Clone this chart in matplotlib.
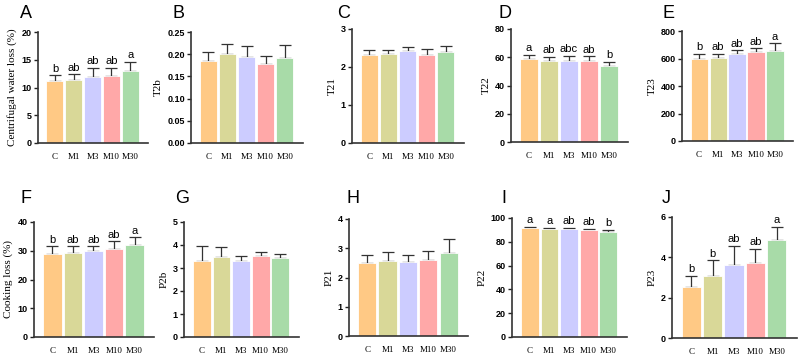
import matplotlib.pyplot as plt
import numpy as np

# --- dados ---
groups = ['C', 'M1', 'M3', 'M10', 'M30']
colors = ['#FFC985', '#D9D898', '#CCCCFF', '#FFA8A8', '#A8DBA8']

panel_letters = ['A', 'B', 'C', 'D', 'E', 'F', 'G', 'H', 'I', 'J']
ylabels = ['Centrifugal water loss (%)', 'T2b', 'T21', 'T22', 'T23',
           'Cooking loss (%)', 'P2b', 'P21', 'P22', 'P23']

cwl_mean = [11.1, 11.4, 11.9, 12.0, 13.0]
cwl_sd = [1.1, 1.0, 1.6, 1.6, 1.6]
t2b_mean = [0.184, 0.201, 0.193, 0.179, 0.191]
t2b_sd = [0.020, 0.023, 0.025, 0.017, 0.029]
t21_mean = [2.32, 2.35, 2.41, 2.31, 2.40]
t21_sd = [0.13, 0.10, 0.11, 0.16, 0.14]
t22_mean = [58.9, 57.5, 57.5, 57.5, 53.9]
t22_sd = [2.6, 2.6, 3.5, 3.1, 2.9]
t23_mean = [594, 606, 633, 647, 657]
t23_sd = [39, 27, 27, 27, 53]
ckl_mean = [28.7, 29.3, 30.0, 30.6, 32.1]
ckl_sd = [2.8, 2.2, 1.5, 2.7, 2.6]
p2b_mean = [3.32, 3.46, 3.32, 3.51, 3.42]
p2b_sd = [0.62, 0.44, 0.19, 0.20, 0.20]
p21_mean = [2.51, 2.56, 2.52, 2.60, 2.84]
p21_sd = [0.25, 0.30, 0.24, 0.31, 0.46]
p22_mean = [91.6, 90.8, 90.8, 90.3, 88.6]
p22_sd = [0.6, 1.1, 0.6, 0.8, 1.1]
p23_mean = [2.55, 3.09, 3.64, 3.72, 4.86]
p23_sd = [0.52, 0.76, 0.92, 0.71, 0.64]

cwl_sig = ['b', 'ab', 'ab', 'ab', 'a']
t22_sig = ['a', 'ab', 'abc', 'ab', 'b']
t23_sig = ['b', 'ab', 'ab', 'ab', 'a']
ckl_sig = ['b', 'ab', 'ab', 'ab', 'a']
p22_sig = ['a', 'a', 'ab', 'ab', 'b']
p23_sig = ['b', 'b', 'ab', 'ab', 'a']

means = [cwl_mean, t2b_mean, t21_mean, t22_mean, t23_mean,
         ckl_mean, p2b_mean, p21_mean, p22_mean, p23_mean]
sds = [cwl_sd, t2b_sd, t21_sd, t22_sd, t23_sd,
       ckl_sd, p2b_sd, p21_sd, p22_sd, p23_sd]
sigs = [cwl_sig, None, None, t22_sig, t23_sig,
        ckl_sig, None, None, p22_sig, p23_sig]
yticks = [[0, 5, 10, 15, 20],
          [0.00, 0.05, 0.10, 0.15, 0.20, 0.25],
          [0, 1, 2, 3],
          [0, 20, 40, 60, 80],
          [0, 200, 400, 600, 800],
          [0, 10, 20, 30, 40],
          [0, 1, 2, 3, 4, 5],
          [0, 1, 2, 3, 4],
          [0, 20, 40, 60, 80, 100],
          [0, 2, 4, 6]]
ytickfmt = ['{:.0f}', '{:.2f}', '{:.0f}', '{:.0f}', '{:.0f}',
            '{:.0f}', '{:.0f}', '{:.0f}', '{:.0f}', '{:.0f}']

# posição dos eixos em pixels: (esquerda, direita, topo, base)
boxes = [(38, 148, 32, 143), (191, 303, 32, 143), (352, 464, 29, 143),
         (511, 628, 29, 142), (682, 793, 31, 141),
         (34, 154, 222, 337), (184, 299, 222, 337), (349, 468, 219, 336),
         (512, 627, 218, 337), (672, 797, 217, 338)]
letter_pos = [(20, 5), (172, 5), (337, 5), (499, 5), (662, 5),
              (20, 190), (175, 190), (347, 190), (501, 190), (662, 190)]

W, H = 799, 355
fig = plt.figure(figsize=(W / 100, H / 100), dpi=100)

x = np.arange(len(groups))
for i in range(10):
    l, r, t, b = boxes[i]
    ax = fig.add_axes([l / W, 1 - b / H, (r - l) / W, (b - t) / H])
    ax.bar(x, means[i], width=0.9, color=colors, edgecolor='white', linewidth=0.6, zorder=2)
    ax.errorbar(x, means[i], yerr=[np.zeros(5), sds[i]], fmt='none',
                ecolor='#333333', elinewidth=0.9, capsize=4, capthick=0.9, zorder=1)
    ymax = yticks[i][-1]
    ax.set_ylim(0, ymax)
    ax.set_xlim(-0.9, 4.95)
    ax.set_yticks(yticks[i])
    ax.set_yticklabels([ytickfmt[i].format(v) for v in yticks[i]],
                       fontfamily='Liberation Sans', fontweight='bold', fontsize=6.5)
    ax.set_xticks(x)
    ax.set_xticklabels(groups, fontfamily='Liberation Serif', fontsize=6.5)
    ax.tick_params(axis='x', length=0, pad=7)
    ax.tick_params(axis='y', length=3, width=1.0, pad=1.5, color='#222222')
    for s in ['top', 'right']:
        ax.spines[s].set_visible(False)
    for s in ['left', 'bottom']:
        ax.spines[s].set_linewidth(1.2)
        ax.spines[s].set_color('#333333')
    ax.set_ylabel(ylabels[i], fontfamily='Liberation Serif', fontsize=8, labelpad=3)
    if sigs[i] is not None:
        for j in range(5):
            ax.text(x[j], means[i][j] + sds[i][j] + ymax * 0.015, sigs[i][j],
                    ha='center', va='bottom', fontfamily='Liberation Sans', fontsize=8)
    lx, ly = letter_pos[i]
    fig.text(lx / W, 1 - ly / H, panel_letters[i], ha='left', va='top',
             fontfamily='Liberation Sans', fontsize=13)

fig.savefig('out.png', dpi=100)
